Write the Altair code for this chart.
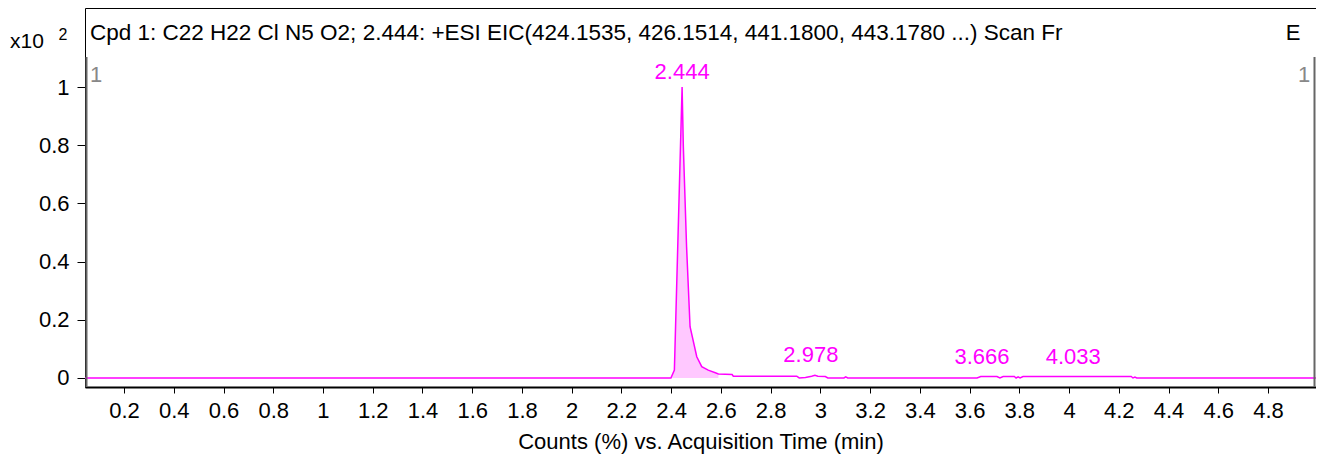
import altair as alt
import pandas as pd

# ---- data ----
times = [0.043, 2.399, 2.413, 2.444, 2.449, 2.462, 2.476, 2.503, 2.523, 2.549,
         2.583, 2.590, 2.645, 2.650, 2.905, 2.915, 2.940, 2.965, 2.978, 2.990,
         3.020, 3.030, 3.095, 3.102, 3.110, 3.630, 3.645, 3.710, 3.722, 3.735,
         3.780, 3.787, 3.795, 3.803, 3.815, 4.250, 4.257, 4.265, 4.272, 4.993]
counts = [0.0, 0.0, 0.027, 1.0, 0.795, 0.451, 0.176, 0.073, 0.039, 0.027,
          0.016, 0.014, 0.012, 0.006, 0.006, 0.0, 0.002, 0.006, 0.009, 0.006,
          0.005, 0.0, 0.0, 0.004, 0.0, 0.0, 0.005, 0.005, 0.0, 0.005,
          0.005, 0.0, 0.004, 0.0, 0.005, 0.005, 0.0, 0.003, 0.0, 0.0]
fill_range = [2.399, 2.590]
peak_rt = [2.444, 2.978, 3.666, 4.033]
peak_h = [1.0, 0.009, 0.005, 0.005]
peak_lbl = ["2.444", "2.978", "3.666", "4.033"]
x_ticks = [0.2, 0.4, 0.6, 0.8, 1, 1.2, 1.4, 1.6, 1.8, 2, 2.2, 2.4, 2.6, 2.8,
           3, 3.2, 3.4, 3.6, 3.8, 4, 4.2, 4.4, 4.6, 4.8]
y_ticks = [0, 0.2, 0.4, 0.6, 0.8, 1]
title_text = ("Cpd 1: C22 H22 Cl N5 O2; 2.444: +ESI EIC(424.1535, 426.1514, "
              "441.1800, 443.1780 ...) Scan Fr")
x_title = "Counts (%) vs. Acquisition Time (min)"

FONT = "Liberation Sans"
MAG = "#FF00FF"
W, H = 1231, 379

trace = pd.DataFrame({"t": times, "c": counts})
fill = trace[(trace.t >= fill_range[0]) & (trace.t <= fill_range[1])]
peaks = pd.DataFrame({"t": peak_rt, "c": peak_h, "lbl": peak_lbl})

xs = alt.Scale(domain=[0.043, 4.993], nice=False, zero=False)
ys = alt.Scale(domain=[-0.031, 1.2715], nice=False, zero=False)

xaxis = alt.Axis(values=x_ticks, format="~g", grid=False, tickSize=6,
                 labelPadding=7, labelFontSize=22, labelFont=FONT,
                 labelColor="black", tickColor="black", domainColor="black",
                 domainWidth=2, title=x_title, titleFont=FONT, titleFontSize=22,
                 titleFontWeight="normal", titleColor="black", titlePadding=10,
                 labelFlush=False)
yaxis = alt.Axis(values=y_ticks, format="~g", grid=False, tickSize=8,
                 labelPadding=8, labelFontSize=22, labelFont=FONT,
                 labelColor="black", tickColor="black", domain=False,
                 title=None, labelFlush=False)

area = alt.Chart(fill).mark_area(color="#FFC8FF", opacity=1, interpolate="linear").encode(
    x=alt.X("t:Q", scale=xs, axis=xaxis),
    y=alt.Y("c:Q", scale=ys, axis=yaxis),
)
line = alt.Chart(trace).mark_line(color=MAG, strokeWidth=1.5, clip=True).encode(
    x=alt.X("t:Q", scale=xs),
    y=alt.Y("c:Q", scale=ys),
)
main_lbl = alt.Chart(peaks.iloc[:1]).mark_text(
    color=MAG, font=FONT, fontSize=22, baseline="bottom", dy=-3).encode(
    x="t:Q", y="c:Q", text="lbl:N")
minor_lbl = alt.Chart(peaks.iloc[1:]).mark_text(
    color=MAG, font=FONT, fontSize=22, baseline="bottom", dy=-8, dx=-4).encode(
    x="t:Q", y="c:Q", text="lbl:N")


def txt(s, x, y, size=22, color="black", align="left"):
    return alt.Chart(pd.DataFrame({"s": [s]})).mark_text(
        font=FONT, fontSize=size, color=color, align=align, baseline="middle"
    ).encode(x=alt.value(x), y=alt.value(y), text="s:N")


side = pd.DataFrame({"k": [0]})
rule_l = alt.Chart(side).mark_rule(color="#666", strokeWidth=2).encode(
    x=alt.value(1.5), y=alt.value(49), y2=alt.value(H))
rule_r = alt.Chart(side).mark_rule(color="#666", strokeWidth=2).encode(
    x=alt.value(W - 1.5), y=alt.value(49), y2=alt.value(H))

chart = alt.layer(
    area, line, rule_l, rule_r, main_lbl, minor_lbl,
    txt(title_text, 5, 25, size=22.5),
    txt("E", 1208, 25, align="center"),
    txt("x10", -75, 34, size=21),
    txt("2", -22, 27, size=16, align="center"),
    txt("1", 11, 67, color="#888", align="center"),
    txt("1", 1219, 67, color="#888", align="center"),
).properties(
    width=W, height=H,
    autosize=alt.AutoSizeParams(type="none"),
    padding={"left": 77, "top": 0, "right": 0, "bottom": 68},
).configure_view(stroke="black", strokeWidth=1)

chart.save("out.html", embed_options={"renderer": "svg", "actions": False})
